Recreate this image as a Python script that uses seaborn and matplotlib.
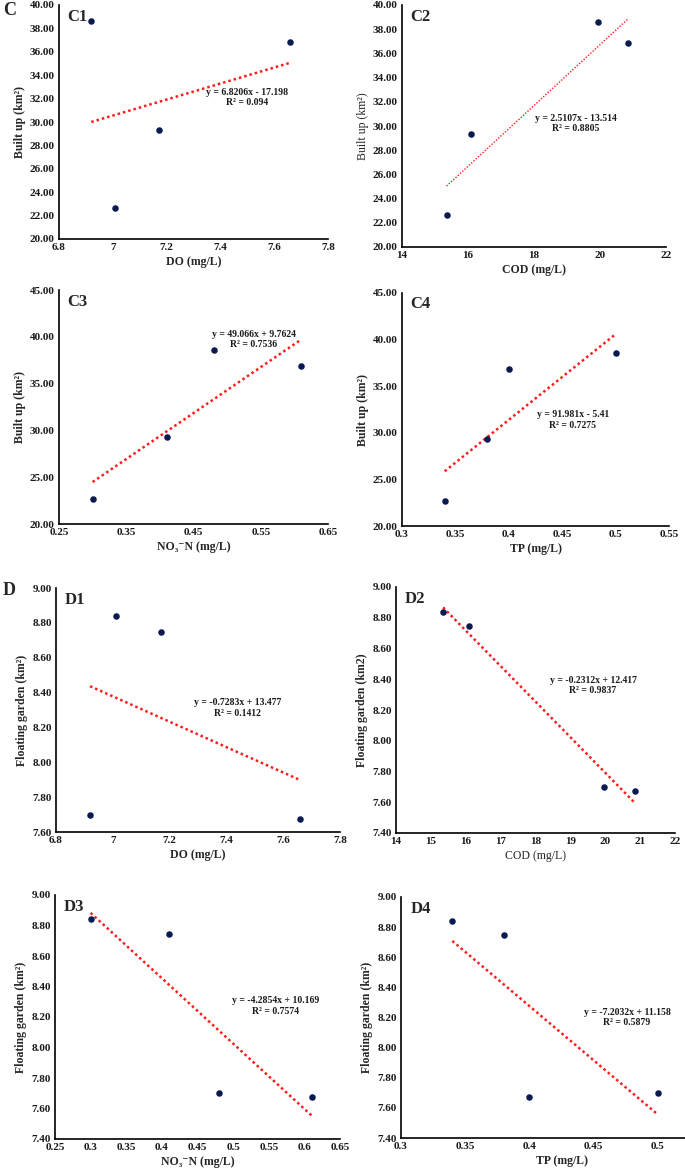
import matplotlib
matplotlib.use('Agg')
import numpy as np
import pandas as pd
import seaborn as sns
import matplotlib.pyplot as plt

# Valores (cuatro sitios de muestreo)
do_vals = [6.92, 7.01, 7.17, 7.66]
cod_vals = [19.95, 15.35, 16.10, 20.85]
no3_vals = [0.48, 0.30, 0.41, 0.61]
tp_vals = [0.50, 0.34, 0.38, 0.40]
built_up = [38.60, 22.65, 29.30, 36.85]
floating = [7.70, 8.84, 8.745, 7.675]

# Ecuaciones de tendencia mostradas en cada panel
eq_c = ["y = 6.8206x - 17.198\nR² = 0.094",
        "y = 2.5107x - 13.514\nR² = 0.8805",
        "y = 49.066x + 9.7624\nR² = 0.7536",
        "y = 91.981x - 5.41\nR² = 0.7275"]
eq_d = ["y = -0.7283x + 13.477\nR² = 0.1412",
        "y = -0.2312x + 12.417\nR² = 0.9837",
        "y = -4.2854x + 10.169\nR² = 0.7574",
        "y = -7.2032x + 11.158\nR² = 0.5879"]

# Ticks de los ejes
xt_do = [6.8, 7.0, 7.2, 7.4, 7.6, 7.8]
xl_do = ["6.8", "7", "7.2", "7.4", "7.6", "7.8"]
xt_cod_c = [14, 16, 18, 20, 22]
xt_cod_d = [14, 15, 16, 17, 18, 19, 20, 21, 22]
xt_no3_c = [0.25, 0.35, 0.45, 0.55, 0.65]
xt_no3_d = [0.25, 0.30, 0.35, 0.40, 0.45, 0.50, 0.55, 0.60, 0.65]
xl_no3_d = ["0.25", "0.3", "0.35", "0.4", "0.45", "0.5", "0.55", "0.6", "0.65"]
xt_tp = [0.30, 0.35, 0.40, 0.45, 0.50, 0.55]
xl_tp = ["0.3", "0.35", "0.4", "0.45", "0.5", "0.55"]
yt_c12 = [20, 22, 24, 26, 28, 30, 32, 34, 36, 38, 40]
yt_c34 = [20, 25, 30, 35, 40, 45]
yt_d1 = [7.6, 7.8, 8.0, 8.2, 8.4, 8.6, 8.8, 9.0]
yt_d = [7.4, 7.6, 7.8, 8.0, 8.2, 8.4, 8.6, 8.8, 9.0]

sns.set_theme(style="white")
plt.rcParams['font.family'] = ['Liberation Serif', 'DejaVu Serif']

W, H = 685, 1173
fig = plt.figure(figsize=(W / 100, H / 100), dpi=100)

NO3 = "NO₃⁻N (mg/L)"
BU = "Built up (km²)"
FG = "Floating garden (km²)"

# (x, y, xticks, xticklabels, yticks, label, xlabel, ylabel, eq, eq pos, caja px, estilo)
paneles = [
    (do_vals, built_up, xt_do, xl_do, yt_c12, "C1", "DO (mg/L)", BU, eq_c[0], (7.5, 32.1), (59, 5, 328, 239), {}),
    (cod_vals, built_up, xt_cod_c, None, yt_c12, "C2", "COD (mg/L)", BU, eq_c[1], (19.27, 30.2), (402, 5, 666, 247),
     {'ylw': 'normal', 'lw': 1.0}),
    (no3_vals, built_up, xt_no3_c, None, yt_c34, "C3", NO3, BU, eq_c[2], (0.54, 39.7), (59, 290, 328, 524), {}),
    (tp_vals, built_up, xt_tp, xl_tp, yt_c34, "C4", "TP (mg/L)", BU, eq_c[3], (0.46, 31.4), (402, 293, 669, 526), {}),
    (do_vals, floating, xt_do, xl_do, yt_d1, "D1", "DO (mg/L)", FG, eq_d[0], (7.44, 8.31), (56, 588, 340, 832), {}),
    (cod_vals, floating, xt_cod_d, None, yt_d, "D2", "COD (mg/L)", "Floating garden (km2)", eq_d[1], (19.65, 8.36),
     (396, 587, 675, 833), {'xlw': 'normal'}),
    (no3_vals, floating, xt_no3_d, xl_no3_d, yt_d, "D3", NO3, FG, eq_d[2], (0.56, 8.27), (55, 895, 340, 1139), {}),
    (tp_vals, floating, xt_tp[:-1], xl_tp[:-1], yt_d, "D4", "TP (mg/L)", FG, eq_d[3], (0.476, 8.20),
     (401, 897, 722, 1138), {'xmax': 0.55}),
]

for (xv, yv, xt, xl, yt, lab, xlab, ylab, eq, pos, box, st) in paneles:
    l, t, r, b = box
    ax = fig.add_axes([l / W, 1 - b / H, (r - l) / W, (b - t) / H])
    df = pd.DataFrame({'x': xv, 'y': yv})
    sns.regplot(data=df, x='x', y='y', ax=ax, ci=None,
                scatter_kws={'s': 22, 'color': '#0a1a50', 'zorder': 3, 'linewidths': 0, 'alpha': 1},
                line_kws={'color': '#ff1a1a', 'ls': (0, (1, 1.2)), 'lw': st.get('lw', 1.8), 'zorder': 2})
    ax.set_xlim(xt[0], st.get('xmax', xt[-1]))
    ax.set_ylim(yt[0], yt[-1])
    ax.set_xticks(xt)
    ax.set_xticklabels(xl if xl else [str(v) for v in xt])
    ax.set_yticks(yt)
    ax.set_yticklabels([f"{v:.2f}" for v in yt])
    ax.tick_params(length=0, labelsize=8, pad=3, colors='#1a1a1a')
    for tl in ax.get_xticklabels() + ax.get_yticklabels():
        tl.set_fontweight('bold')
    ax.set_xlabel(xlab, fontsize=8.5, fontweight=st.get('xlw', 'bold'), labelpad=3)
    ax.set_ylabel(ylab, fontsize=8.5, fontweight=st.get('ylw', 'bold'), labelpad=3)
    sns.despine(ax=ax)
    for s in ['left', 'bottom']:
        ax.spines[s].set_color('black')
        ax.spines[s].set_linewidth(1.2)
    ax.text(pos[0], pos[1], eq, ha='center', va='center', fontsize=7, fontweight='bold',
            linespacing=1.25, color='#1a1a1a')
    ax.text(0.03, 0.985, lab, transform=ax.transAxes, ha='left', va='top',
            fontsize=12, fontweight='bold')

fig.text(3 / W, 1 - 2 / H, "C", ha='left', va='top', fontsize=13, fontweight='bold')
fig.text(3 / W, 1 - 582 / H, "D", ha='left', va='top', fontsize=13, fontweight='bold')

fig.savefig('out.png', dpi=100)
